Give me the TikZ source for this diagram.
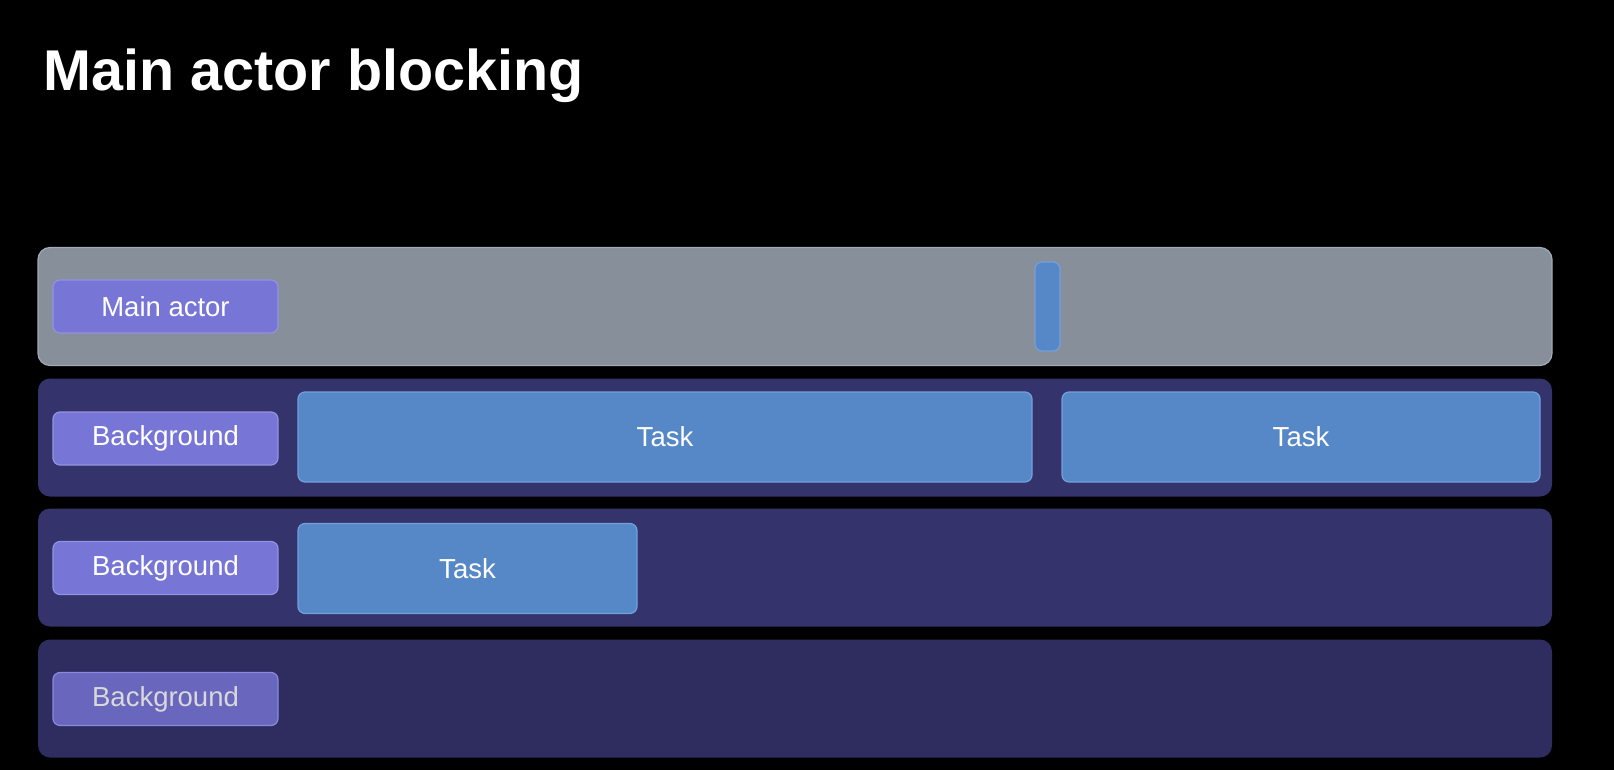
\documentclass[tikz,border=0pt]{standalone}
\usepackage{fontspec}
\setmainfont{Liberation Sans}
\usetikzlibrary{positioning}

\definecolor{laneGray}{HTML}{878F9A}
\definecolor{laneGrayLine}{HTML}{A3AAB3}
\definecolor{laneBlue}{HTML}{35336B}
\definecolor{laneBlueDark}{HTML}{2F2D60}
\definecolor{labelFill}{HTML}{7776D6}
\definecolor{labelLine}{HTML}{9392E2}
\definecolor{labelDim}{HTML}{6966BE}
\definecolor{taskFill}{HTML}{5688C8}
\definecolor{taskLine}{HTML}{72A0DC}

\begin{document}
\begin{tikzpicture}
[x=1pt,y=-1pt,
  laneDecorate/.style={shape=rectangle,rounded corners=12pt,inner sep=0pt,
    minimum width=1514pt,minimum height=118pt},
  labelDecorate/.style={shape=rectangle,rounded corners=7pt,inner sep=0pt,
    minimum width=225pt,minimum height=53pt,fill=labelFill,draw=labelLine,
    line width=1.2pt,text=white,font=\fontsize{27.5}{32}\selectfont},
  taskDecorate/.style={shape=rectangle,rounded corners=7pt,inner sep=0pt,
    minimum height=90pt,fill=taskFill,draw=taskLine,line width=1.2pt,
    text=white,font=\fontsize{27.5}{32}\selectfont}]
\useasboundingbox[fill=black] (0,0) rectangle (1614,770);
%% title
\node (title) at (40,91) [anchor=base west,text=white,
  font=\bfseries\fontsize{57.5}{66}\selectfont] {Main actor blocking};
%% lanes
\node (lane1) at (795,306.5) [laneDecorate,fill=laneGray,draw=laneGrayLine,line width=1.2pt] {};
\foreach \lanename/\y/\col in {lane2/437.5/laneBlue, lane3/567.5/laneBlue, lane4/698.5/laneBlueDark}
{
  \node (\lanename) at (795,\y) [laneDecorate,fill=\col] {};
}
%% lane labels
\foreach \labelname/\y/\txt in {
  main/306.5/Main actor,
  bgOne/438.5/Background,
  bgTwo/568/Background}
{
  \node (\labelname) at (165.5,\y) [labelDecorate] {\txt};
}
\node (bgThree) at (165.5,699) [labelDecorate,fill=labelDim,draw=labelLine!80!labelDim,
  text=white!85!black] {Background};
%% tasks
\node (hop) at (1047.5,306.5) [taskDecorate,minimum width=25pt,minimum height=89pt] {};
\node (taskA) at (665,437) [taskDecorate,minimum width=734pt] {Task};
\node (taskB) at (1301,437) [taskDecorate,minimum width=478pt] {Task};
\node (taskC) at (467.5,568.5) [taskDecorate,minimum width=339pt] {Task};
\end{tikzpicture}
\end{document}
